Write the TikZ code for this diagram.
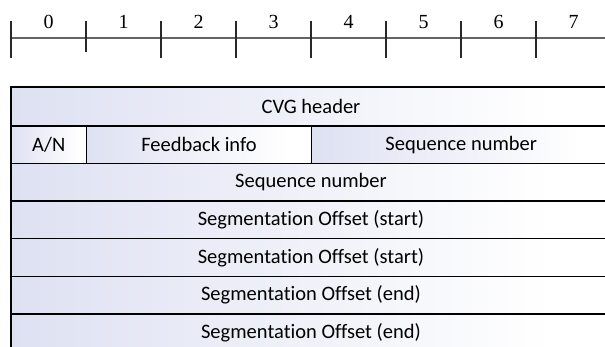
\documentclass[tikz,border=0pt]{standalone}
\usepackage{fontspec}
\newfontfamily\cellfont[Ligatures={NoCommon}]{Carlito}
\newfontfamily\numfont{Liberation Serif}
\definecolor{lav}{RGB}{222,225,242}
\definecolor{rulegray}{RGB}{100,100,100}
\definecolor{tickgray}{RGB}{40,40,40}
\pgfdeclarehorizontalshading{cellshade}{100bp}{color(0bp)=(lav); color(25bp)=(lav); color(70bp)=(white); color(100bp)=(white)}
\begin{document}
\begin{tikzpicture}[x=1pt,y=-1pt,
  cell/.style={draw=black, line width=1.4pt, shading=cellshade,
    inner sep=0pt, outer sep=0pt, anchor=north west, font=\cellfont\fontsize{20.5}{24}\selectfont},
  rulerline/.style={draw=rulegray, line width=1.2pt},
  tickline/.style={draw=tickgray, line width=1.2pt},
  num/.style={font=\numfont\fontsize{20}{24}\selectfont, inner sep=0pt}]
\useasboundingbox (0,0) rectangle (605,347);
\clip (0,0) rectangle (605,347);
% ruler
\coordinate (rs) at (11,38);
\coordinate (re) at (605,38);
\draw[rulerline] (rs) -- (re);
\foreach \i in {0,...,7}{
  \pgfmathsetmacro{\tx}{11+75*\i}
  \coordinate (t\i a) at (\tx,21);
  \ifnum\i=1 \coordinate (t\i b) at (\tx,52); \else \coordinate (t\i b) at (\tx,58); \fi
  \draw[tickline] (t\i a) -- (t\i b);
  \node[num] (n\i) at (48.5+75*\i,22) {\i};
}
% table
\node[cell, minimum width=600pt, minimum height=39pt] (cvg) at (11,87) {CVG header};
\node[cell, minimum width=75.5pt, minimum height=37.6pt] (an) at (11,126) {A/N};
\node[cell, minimum width=225pt, minimum height=37.6pt] (fb) at (86.5,126) {Feedback info};
\node[cell, minimum width=299.5pt, minimum height=37.6pt] (sn1) at (311.5,126) {Sequence number};
\node[cell, minimum width=600pt, minimum height=37.6pt] (sn2) at (11,163.6) {Sequence number};
\node[cell, minimum width=600pt, minimum height=37.6pt] (so1) at (11,201.2) {Segmentation Offset (start)};
\node[cell, minimum width=600pt, minimum height=37.6pt] (so2) at (11,238.8) {Segmentation Offset (start)};
\node[cell, minimum width=600pt, minimum height=37.6pt] (se1) at (11,276.4) {Segmentation Offset (end)};
\node[cell, minimum width=600pt, minimum height=37.6pt] (se2) at (11,314) {Segmentation Offset (end)};
\end{tikzpicture}
\end{document}
